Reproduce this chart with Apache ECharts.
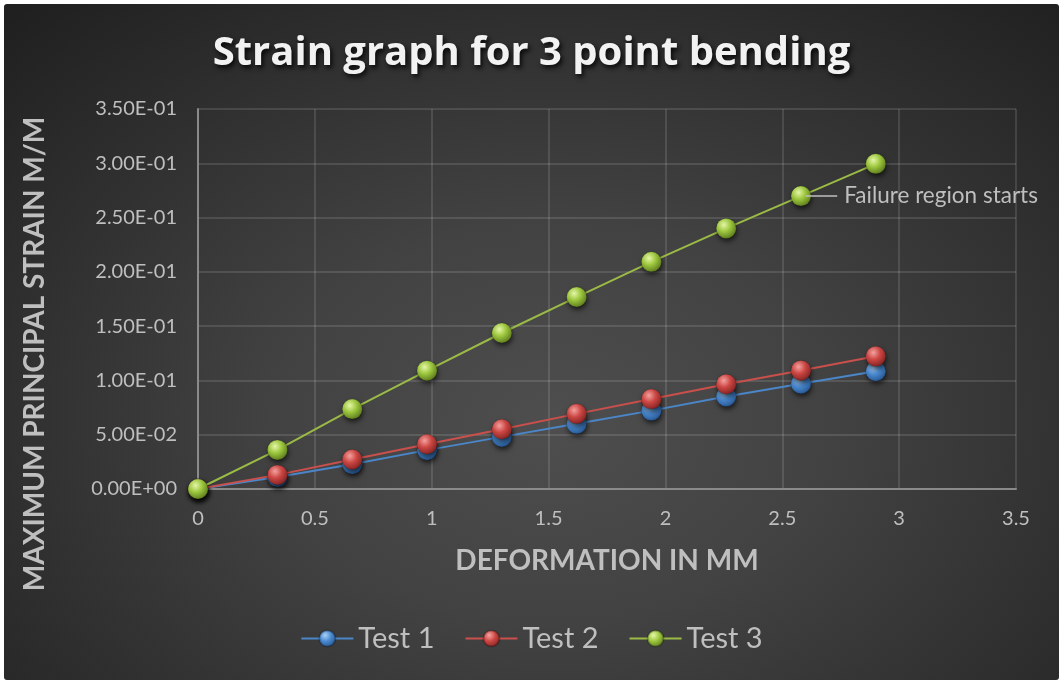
<!DOCTYPE html>
<html>
<head>
<meta charset="utf-8">
<script src="https://cdn.jsdelivr.net/npm/echarts@6/dist/echarts.min.js"></script>
<style>
  html, body { margin: 0; padding: 0; background: #ffffff; }
  #chart {
    position: absolute; left: 4px; top: 4px; width: 1055px; height: 676px;
    background: radial-gradient(ellipse 75% 85% at 52% 62%, #4e4e4e 0%, #424242 35%, #2f2f2f 70%, #1f1f1f 100%);
    border-radius: 3px;
  }
</style>
</head>
<body>
<div id="chart"></div>
<script>
const titleText = 'Strain graph for 3 point bending';
const xAxisName = 'DEFORMATION IN MM';
const yAxisName = 'MAXIMUM PRINCIPAL STRAIN M/M';
const seriesNames = ['Test 1', 'Test 2', 'Test 3'];
const deformation = [0, 0.34, 0.66, 0.98, 1.30, 1.62, 1.94, 2.26, 2.58, 2.90];
const test1 = [0, 0.0110, 0.0228, 0.0358, 0.0480, 0.0600, 0.0722, 0.0852, 0.0970, 0.1085];
const test2 = [0, 0.0130, 0.0272, 0.0412, 0.0550, 0.0692, 0.0828, 0.0965, 0.1092, 0.1222];
const test3 = [0, 0.0360, 0.0736, 0.1090, 0.1437, 0.1768, 0.2092, 0.2400, 0.2698, 0.2995];
const annotationText = 'Failure region starts';
const annotationIndex = 8;

const lineColors = ['#4a86c8', '#c9504c', '#9bbb46'];
const sphere = [
  ['#a9d0f5', '#4a8ad0', '#23508a'],
  ['#f5a3a0', '#cc4744', '#7a1f1d'],
  ['#e6f7a8', '#9dc73e', '#55721a']
];

function sphereFill(c) {
  return {
    type: 'radial', x: 0.38, y: 0.32, r: 0.75,
    colorStops: [
      { offset: 0, color: c[0] },
      { offset: 0.45, color: c[1] },
      { offset: 1, color: c[2] }
    ]
  };
}

function sci(v) {
  if (v === 0) return '0.00E+00';
  const e = Math.floor(Math.log10(Math.abs(v)) + 1e-9);
  const m = v / Math.pow(10, e);
  const sign = e < 0 ? '-' : '+';
  const ee = String(Math.abs(e)).padStart(2, '0');
  return m.toFixed(2) + 'E' + sign + ee;
}

const allData = [test1, test2, test3];
const labelColor = '#bfbfbf';
const fontFam = 'Lato, "Open Sans", sans-serif';

const series = allData.map((arr, i) => {
  const s = {
    name: seriesNames[i],
    type: 'line',
    data: deformation.map((x, k) => [x, arr[k]]),
    symbol: 'circle',
    symbolSize: 20,
    lineStyle: { color: lineColors[i], width: 2 },
    itemStyle: {
      color: sphereFill(sphere[i]),
      borderColor: 'rgba(0,0,0,0.25)',
      borderWidth: 0.5,
      shadowColor: 'rgba(0,0,0,0.6)',
      shadowBlur: 5,
      shadowOffsetX: 1,
      shadowOffsetY: 3
    },
    emphasis: { disabled: true },
    z: 2 + i
  };
  if (i === 2) {
    const px = deformation[annotationIndex];
    const py = arr[annotationIndex];
    s.markLine = {
      silent: true,
      symbol: 'none',
      lineStyle: { color: labelColor, width: 1.5, type: 'solid' },
      label: {
        show: true, position: 'end', formatter: annotationText,
        color: labelColor, fontSize: 22.5, fontFamily: fontFam, distance: 7
      },
      data: [[{ coord: [px + 0.02, py] }, { coord: [px + 0.155, py] }]]
    };
  }
  return s;
});

const chart = echarts.init(document.getElementById('chart'), null, { renderer: 'canvas' });
chart.setOption({
  backgroundColor: 'transparent',
  animation: false,
  title: {
    text: titleText,
    left: 'center',
    top: 25,
    textStyle: {
      color: '#f2f2f2', fontSize: 40, fontWeight: 'bold', fontFamily: '"Open Sans", Lato, sans-serif',
      textShadowColor: 'rgba(0,0,0,0.85)', textShadowBlur: 5,
      textShadowOffsetX: 2, textShadowOffsetY: 3
    }
  },
  legend: {
    data: seriesNames,
    bottom: 22,
    left: 'center',
    itemWidth: 52,
    itemHeight: 20,
    itemGap: 30,
    textStyle: { color: labelColor, fontSize: 29, fontFamily: fontFam }
  },
  graphic: [{
    type: 'text',
    x: 31, y: 350,
    rotation: Math.PI / 2,
    style: {
      text: yAxisName,
      fill: labelColor,
      font: 'bold 28px Lato, "Open Sans", sans-serif',
      align: 'center',
      verticalAlign: 'middle'
    },
    silent: true
  }],
  grid: { left: 194, right: 43, top: 105, bottom: 191, containLabel: false },
  xAxis: {
    type: 'value', min: 0, max: 3.5, interval: 0.5,
    name: xAxisName, nameLocation: 'middle', nameGap: 58,
    nameTextStyle: { color: labelColor, fontSize: 28, fontWeight: 'bold', fontFamily: fontFam },
    axisLine: { show: true, onZero: false, lineStyle: { color: '#8a8a8a', width: 2 } },
    axisTick: { show: false },
    axisLabel: { color: labelColor, fontSize: 20, fontFamily: fontFam, margin: 20 },
    splitLine: { show: true, lineStyle: { color: 'rgba(255,255,255,0.16)', width: 1.5 } }
  },
  yAxis: {
    type: 'value', min: 0, max: 0.35, interval: 0.05,
    axisLine: { show: true, lineStyle: { color: '#8a8a8a', width: 2 } },
    axisTick: { show: false },
    axisLabel: { color: labelColor, fontSize: 20, fontFamily: fontFam, margin: 21, formatter: sci },
    splitLine: { show: true, lineStyle: { color: 'rgba(255,255,255,0.16)', width: 1.5 } }
  },
  series: series
});
</script>
</body>
</html>
